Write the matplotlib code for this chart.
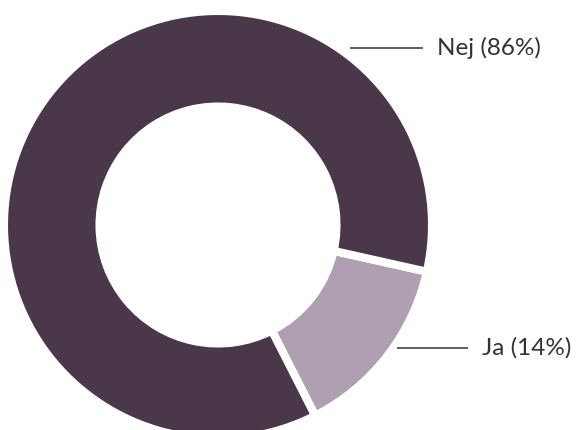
import matplotlib.pyplot as plt

# data
categories = ["Ja", "Nej"]
values = [14, 86]
colors = ["#b09fb2", "#4b374a"]

W, H = 577, 430
fig = plt.figure(figsize=(W / 100, H / 100), dpi=100)
ax = fig.add_axes([0, 0, 1, 1])

cx, cy = 218, H - 225
R = 214

ax.pie(values, colors=colors, startangle=-63, counterclock=True,
       radius=R, center=(cx, cy),
       wedgeprops=dict(width=95.5, edgecolor="white", linewidth=5.8))

ax.set_xlim(0, W)
ax.set_ylim(0, H)
ax.set_aspect("equal")
ax.axis("off")

# label positions (image pixels): line start, line end, text x, y
label_pos = {"Nej": (350, 423, 437, 48), "Ja": (397, 468, 482, 348)}
for c, v in zip(categories, values):
    x0, x1, tx, y = label_pos[c]
    ax.plot([x0, x1], [H - y, H - y], color="#333333", lw=1.1,
            solid_capstyle="butt")
    ax.text(tx, H - y, f"{c} ({v}%)", fontsize=17.5, family="Lato",
            color="#333333", va="center", ha="left")

fig.savefig("out.png", dpi=100, facecolor="white")
